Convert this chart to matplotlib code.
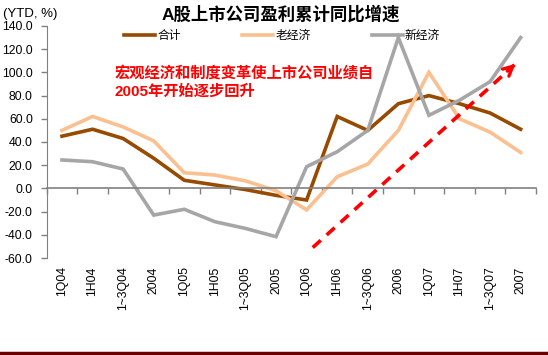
import matplotlib.pyplot as plt
from matplotlib.lines import Line2D

plt.rcParams['font.family'] = ['Liberation Sans', 'Noto Sans CJK SC', 'DejaVu Sans']

categories = ['1Q04', '1H04', '1~3Q04', '2004', '1Q05', '1H05', '1~3Q05', '2005',
              '1Q06', '1H06', '1~3Q06', '2006', '1Q07', '1H07', '1~3Q07', '2007']
total = [45, 51, 43, 26, 7, 3, -1, -6, -10, 62, 50, 73, 80, 73, 65, 51]
old_economy = [50, 62, 53, 41, 13.5, 11.5, 6.5, -2, -18.5, 10, 21, 50, 100, 60, 48.5, 31]
new_economy = [24.5, 23, 16.7, -23, -18, -28.7, -34.5, -41.6, 18.7, 31.6, 50, 130, 63, 76, 92, 130]

series_names = ['合计', '老经济', '新经济']
colors = ['#964B00', '#FAC090', '#A6A6A6']

# trend arrow (category index, value)
arrow_start = (8.2, -51)
arrow_end = (14.9, 109)

fig = plt.figure(figsize=(5.48, 3.55), dpi=100)
ax = fig.add_axes([0.0852, 0.2732, 0.8928, 0.6536])

x = list(range(len(categories)))
for vals, name, c in zip([total, old_economy, new_economy], series_names, colors):
    ax.plot(x, vals, color=c, lw=2.6, label=name, solid_joinstyle='miter')

ax.set_xlim(-0.5, len(categories) - 0.5)
ax.set_ylim(-60, 140)
ax.set_yticks(range(-60, 141, 20))
ax.set_yticklabels([f'{v:.1f}' for v in range(-60, 141, 20)], fontsize=8.8)
ax.tick_params(axis='y', length=4, width=1, color='#808080', pad=6)

for s in ['top', 'right']:
    ax.spines[s].set_visible(False)
ax.spines['left'].set_color('#808080')
ax.spines['bottom'].set_position(('data', 0))
ax.spines['bottom'].set_color('#808080')
ax.spines['bottom'].set_linewidth(1.2)
ax.set_xticks([i + 0.5 for i in range(-1, len(categories))])
ax.tick_params(axis='x', length=4, width=1, color='#808080', labelbottom=False)

sec = ax.secondary_xaxis(0.0)
sec.set_xticks(x)
sec.set_xticklabels(categories, rotation=90, fontsize=8.8)
sec.tick_params(length=0, pad=6)
sec.spines['bottom'].set_visible(False)

ax.legend(loc='center', bbox_to_anchor=(0.515, 0.8986), bbox_transform=fig.transFigure,
          ncol=3, frameon=False, fontsize=8.5, handlelength=2.6, handletextpad=0.2,
          columnspacing=5.2)

ax.text(1.73, 91.5, '宏观经济和制度变革使上市公司业绩自\n2005年开始逐步回升',
        color='#FF0000', fontsize=11, fontweight='bold', va='center', ha='left',
        linespacing=1.35)

ax.plot([arrow_start[0], arrow_end[0] - 0.1], [arrow_start[1], arrow_end[1] - 2.5],
        color='#FF0000', lw=2.6, linestyle=(0, (3, 2.2)))
ax.annotate('', xy=arrow_end, xytext=(arrow_end[0] - 0.4, arrow_end[1] - 9.5),
            arrowprops=dict(arrowstyle='->', color='#FF0000', lw=2.4, mutation_scale=17))

fig.text(0.513, 0.96, 'A股上市公司盈利累计同比增速', ha='center', va='center',
         fontsize=12.5, fontweight='bold')
fig.text(0.005, 0.96, '(YTD, %)', ha='left', va='center', fontsize=9.5)

fig.add_artist(Line2D([0, 1], [0.006, 0.006], transform=fig.transFigure,
                      color='#6B0000', lw=2.5))

fig.savefig('out.png', dpi=100)
